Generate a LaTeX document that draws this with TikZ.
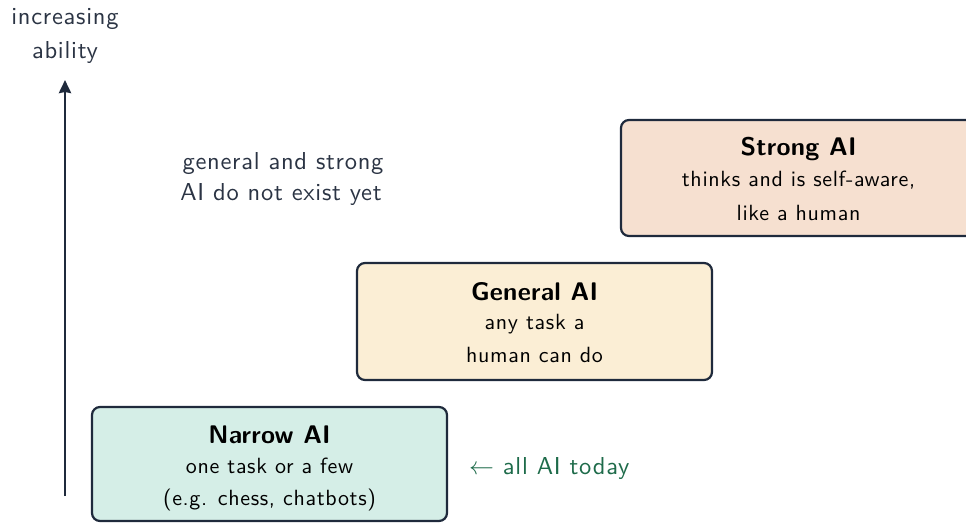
\documentclass[tikz,border=0pt]{standalone}
\usepackage{fontspec}
\usetikzlibrary{arrows.meta}
\newfontfamily\bodyf{lmsans10-regular}[Extension=.otf, LetterSpace=3]
\newfontfamily\titlef{lmsans10-bold}[Extension=.otf, LetterSpace=1]
\definecolor{ink}{HTML}{1F2A3C}
\definecolor{labelc}{HTML}{2B3444}
\definecolor{greenc}{HTML}{1E6B4A}
\definecolor{narrowfill}{HTML}{D5EEE7}
\definecolor{generalfill}{HTML}{FBEED5}
\definecolor{strongfill}{HTML}{F6E0D0}
\tikzset{
  levelbox/.style={draw=ink, line width=2.2pt, rounded corners=8pt},
  title/.style={font=\titlef\fontsize{25.5}{30}\selectfont, text=black, anchor=base, inner sep=0pt},
  body/.style={font=\bodyf\fontsize{22}{26}\selectfont, text=black, anchor=base, inner sep=0pt},
  outlabel/.style={font=\bodyf\fontsize{24.5}{29}\selectfont, text=labelc, anchor=base, inner sep=0pt},
}
\begin{document}
\begin{tikzpicture}[x=1pt,y=-1pt]
\useasboundingbox (0,0) rectangle (966,523);
\begin{scope}
\clip (0,0) rectangle (966,523);
\path[levelbox, fill=narrowfill] (92,407) rectangle (447,521);
\path[levelbox, fill=generalfill] (357,263) rectangle (712,380);
\path[levelbox, fill=strongfill] (621,120) rectangle (976,236);
\end{scope}
\node[title] (nt) at (269.5,443) {Narrow AI};
\node[body] (n1) at (269.5,473) {one task or a few};
\node[body] (n2) at (269.5,505) {(e.g. chess, chatbots)};
\node[title] (gt) at (534.5,300) {General AI};
\node[body] (g1) at (534.5,329) {any task a};
\node[body] (g2) at (534.5,362) {human can do};
\node[title] (st) at (798.5,155) {Strong AI};
\node[body] (s1) at (798.5,186) {thinks and is self-aware,};
\node[body] (s2) at (798.5,220) {like a human};
% axis
\coordinate (abot) at (65,496);
\coordinate (atop) at (65,80);
\draw[ink, line width=2.8pt, -{Stealth[length=13pt,width=12pt,inset=1pt]}] (abot) -- (atop);
\node[outlabel] (ax1) at (65,24.5) {increasing};
\node[outlabel] (ax2) at (65,58) {ability};
\node[outlabel] (note1) at (283,169) {general and strong};
\node[outlabel] (note2) at (281,200) {AI do not exist yet};
\node[outlabel, text=greenc, anchor=base west] (today) at (469,474) {$\leftarrow$ all AI today};
\end{tikzpicture}
\end{document}
